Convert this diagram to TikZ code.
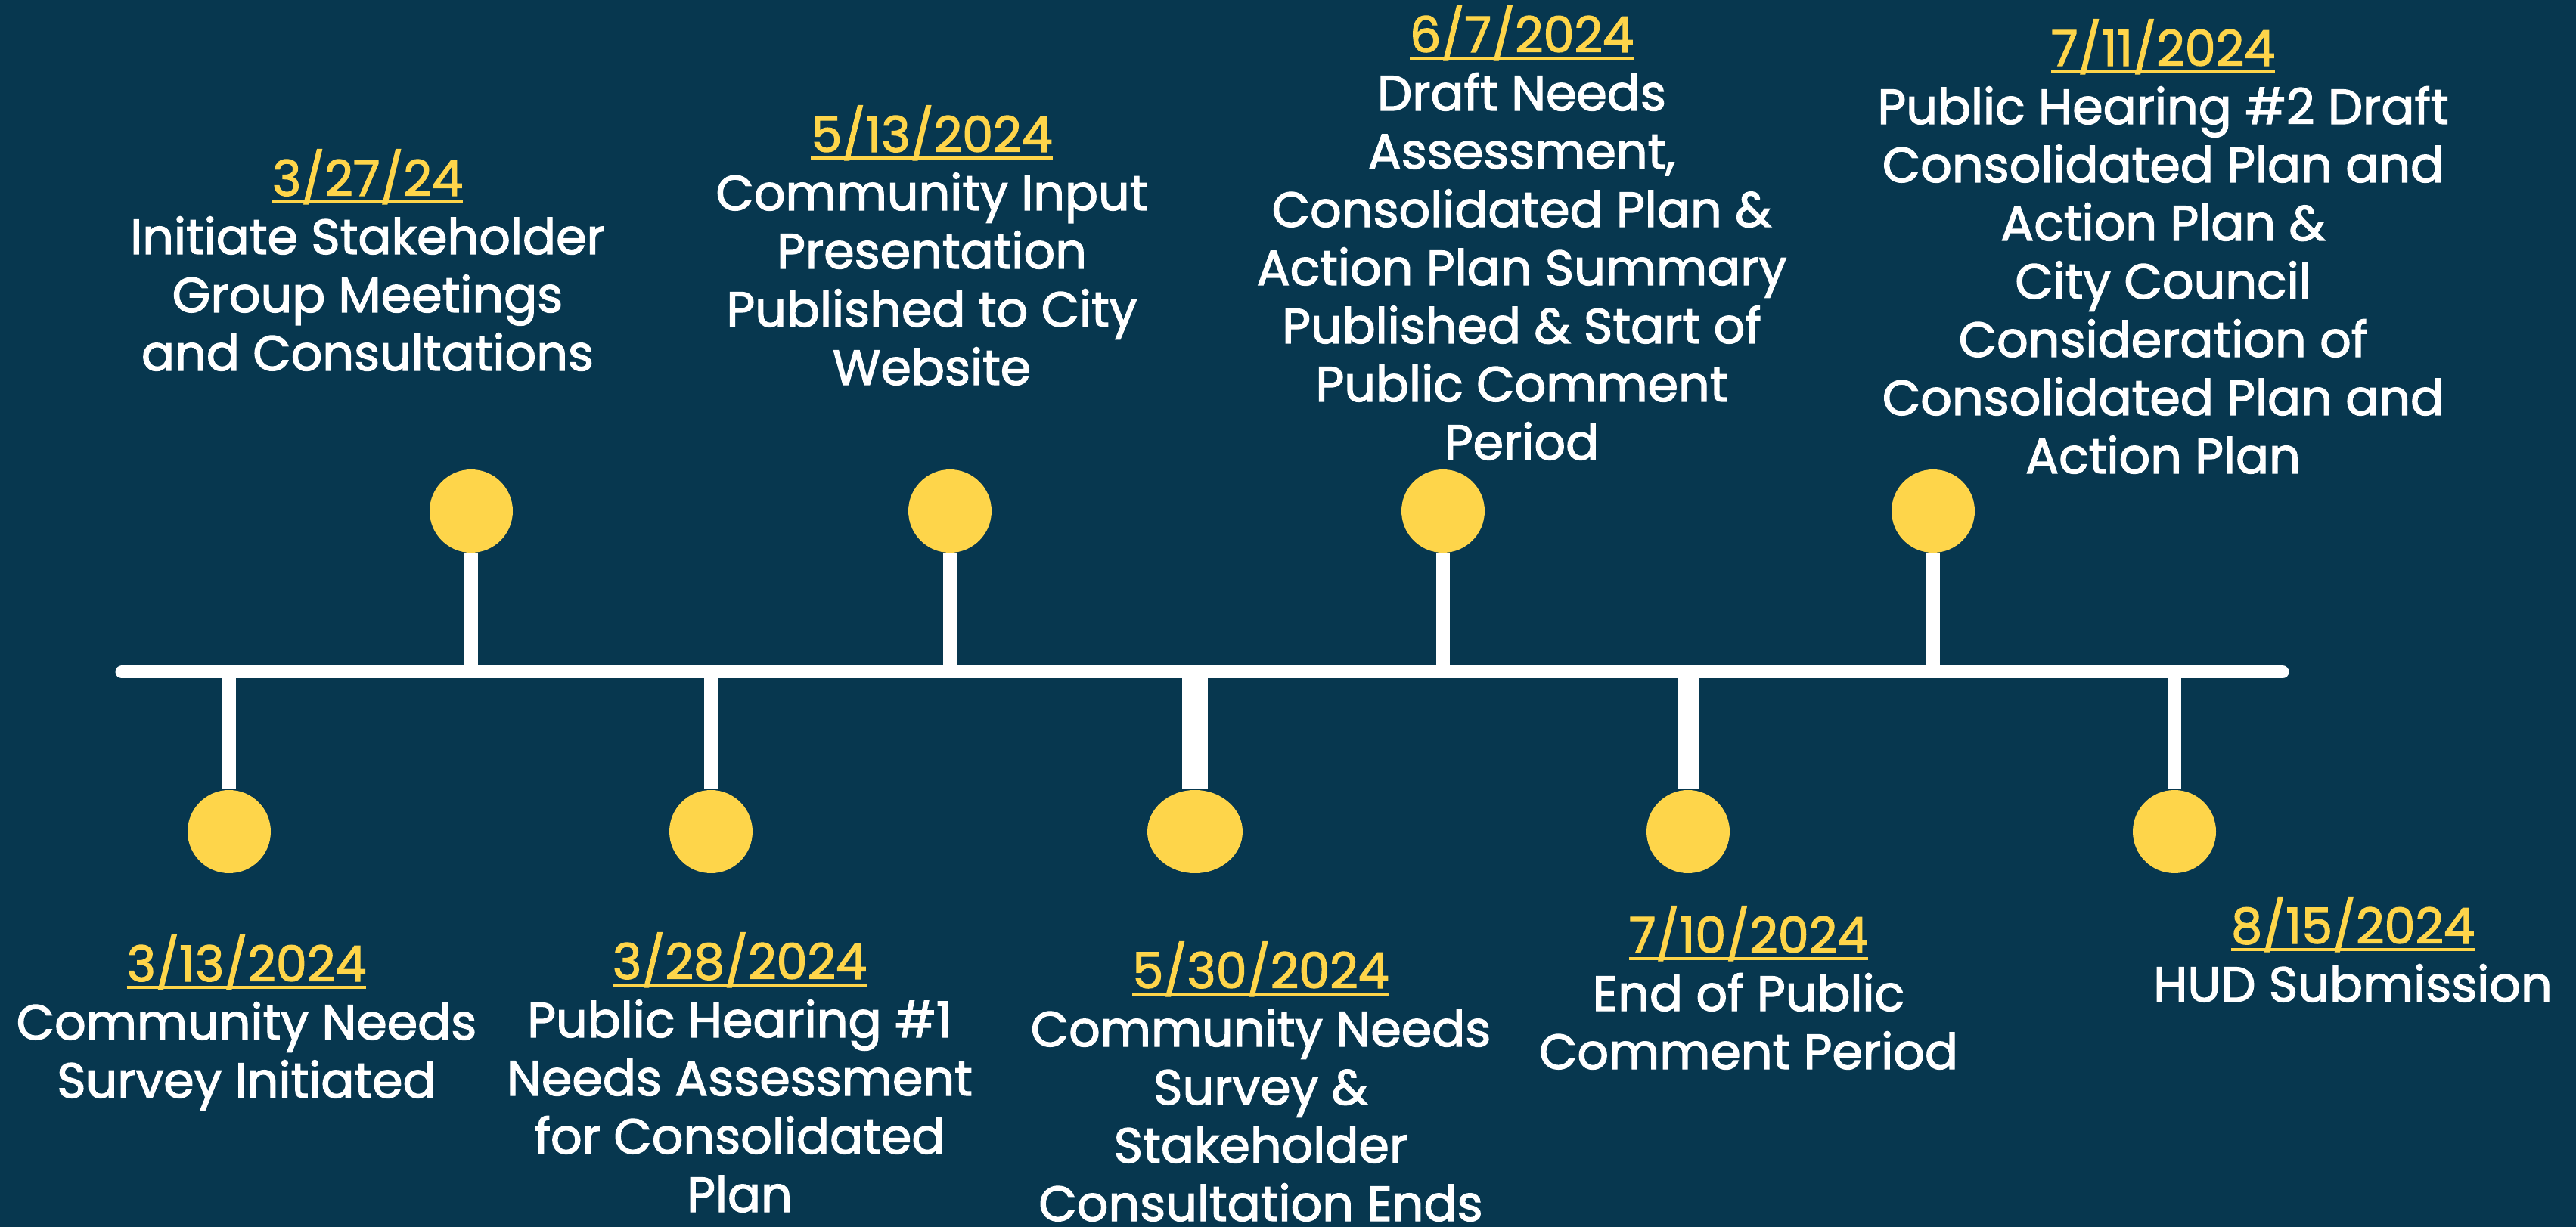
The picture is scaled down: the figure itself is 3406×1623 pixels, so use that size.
\documentclass[tikz,border=0pt]{standalone}
\usepackage{fontspec}
\usetikzlibrary{shapes.geometric}
\setmainfont{Poppins}[FakeBold=2]
\definecolor{bg}{HTML}{07374F}
\definecolor{gold}{HTML}{FED54A}
\newcommand\udate[1]{{\color{gold}\setbox0\hbox{#1}\rlap{\vrule height -1.4pt depth 2.4pt width \wd0}\box0}}
\begin{document}
\begin{tikzpicture}[x=0.25pt,y=-0.25pt,
  dot/.style={circle,fill=gold,inner sep=0pt,minimum size=27.5pt},
  stem/.style={draw=white,line width=4.3pt},
  axis/.style={draw=white,line width=4.25pt,line cap=round},
  lbl/.style={text=white,align=center,font=\fontsize{16.3}{19.25}\selectfont,inner sep=0pt,anchor=base}]
\fill[bg] (0,0) rectangle (3406,1623);
\useasboundingbox (0,0) rectangle (3406,1623);
% axis
\coordinate (L) at (161,889);
\coordinate (R) at (3018,889);
\draw[axis] (L) -- (R);
% anchor points on the axis
\coordinate (a1) at (303,889);
\coordinate (a2) at (623,889);
\coordinate (a3) at (940,889);
\coordinate (a4) at (1256,889);
\coordinate (a5) at (1580,889);
\coordinate (a6) at (1908,889);
\coordinate (a7) at (2232,889);
\coordinate (a8) at (2556,889);
\coordinate (a9) at (2875,889);
% dots
\node[dot] (d1) at (303,1100) {};
\node[dot] (d2) at (623,676) {};
\node[dot] (d3) at (940,1100) {};
\node[dot] (d4) at (1256,676) {};
\node[dot,ellipse,minimum width=31.5pt,minimum height=27.5pt] (d5) at (1580,1100) {};
\node[dot] (d6) at (1908,676) {};
\node[dot] (d7) at (2232,1100) {};
\node[dot] (d8) at (2556,676) {};
\node[dot] (d9) at (2875,1100) {};
% stems
\draw[stem] (d1) -- (a1);
\draw[stem] (d2) -- (a2);
\draw[stem] (d3) -- (a3);
\draw[stem] (d4) -- (a4);
\draw[stem,line width=8.5pt] (d5) -- (a5);
\draw[stem] (d6) -- (a6);
\draw[stem,line width=6.75pt] (d7) -- (a7);
\draw[stem] (d8) -- (a8);
\draw[stem] (d9) -- (a9);
% labels (anchored at the baseline of their last line)
\node[lbl] (t2) at (486,490) {\udate{3/27/24}\\Initiate Stakeholder\\Group Meetings\\and Consultations};
\node[lbl] (t4) at (1232,509) {\udate{5/13/2024}\\Community Input\\Presentation\\Published to City\\Website};
\node[lbl] (t6) at (2012,608) {\udate{6/7/2024}\\Draft Needs\\Assessment,\\Consolidated Plan \&\\Action Plan Summary\\Published \& Start of\\Public Comment\\Period};
\node[lbl] (t8) at (2860,626) {\udate{7/11/2024}\\Public Hearing \#2 Draft\\Consolidated Plan and\\Action Plan \&\\City Council\\Consideration of\\Consolidated Plan and\\Action Plan};
\node[lbl] (t1) at (326,1452) {\udate{3/13/2024}\\Community Needs\\Survey Initiated};
\node[lbl] (t3) at (978,1603) {\udate{3/28/2024}\\Public Hearing \#1\\Needs Assessment\\for Consolidated\\Plan};
\node[lbl] (t5) at (1667,1615) {\udate{5/30/2024}\\Community Needs\\Survey \&\\Stakeholder\\Consultation Ends};
\node[lbl] (t7) at (2312,1414) {\udate{7/10/2024}\\End of Public\\Comment Period};
\node[lbl] (t9) at (3111,1325) {\udate{8/15/2024}\\HUD Submission};
\end{tikzpicture}
\end{document}
